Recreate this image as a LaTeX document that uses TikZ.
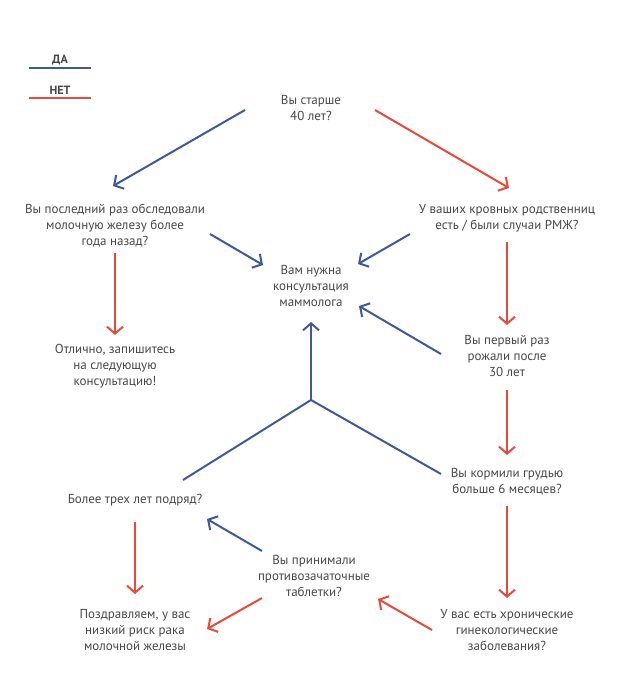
\documentclass[tikz,border=0pt]{standalone}
\usepackage{fontspec}
\setmainfont{PT Sans}
\usetikzlibrary{arrows.meta}
\definecolor{da}{HTML}{3E5A94}
\definecolor{net}{HTML}{E8493A}
\definecolor{txt}{HTML}{474747}
\tikzset{q/.style={align=center, inner sep=0pt, text=txt,
            font=\fontsize{13}{16}\selectfont},
         key/.style={q, font=\fontsize{12}{14}\selectfont\bfseries},
         yes/.style={draw=da, line width=2pt,
            -{Straight Barb[length=7pt, width=16pt]}},
         no/.style={yes, draw=net}}

\begin{document}
\begin{tikzpicture}[x=1pt, y=-1pt]
\useasboundingbox (0,0) rectangle (624,700);
% legend
\node[key] (kda) at (60,60) {ДА};
\node[key] (knet) at (60,90) {НЕТ};
\draw[yes, -] (29,68) -- (91,68);
\draw[no, -] (29,98) -- (91,98);
% questions and answers
\node[q] (q1) at (311,108) {Вы старше\\40 лет?};
\node[q] (q2) at (115,226) {Вы последний раз обследовали\\молочную железу более\\года назад?};
\node[q] (q3) at (507,218) {У ваших кровных родственниц\\есть / были случаи РМЖ?};
\node[q] (res) at (311,286) {Вам нужна\\консультация\\маммолога};
\node[q] (ok) at (115,366) {Отлично, запишитесь\\на следующую\\консультацию!};
\node[q] (q4) at (507,356) {Вы первый раз\\рожали после\\30 лет};
\node[q] (q5) at (507,482) {Вы кормили грудью\\больше 6 месяцев?};
\node[q] (q6) at (135,500) {Более трех лет подряд?};
\node[q] (q7) at (314,576) {Вы принимали\\противозачаточные\\таблетки?};
\node[q] (low) at (135,630) {Поздравляем, у вас\\низкий риск рака\\молочной железы};
\node[q] (q8) at (507,630) {У вас есть хронические\\гинекологические\\заболевания?};
\coordinate (join) at (311,400);
% yes
\draw[yes] ([shift={(-66,2)}]q1.center) -- ([shift={(-2,-40)}]q2.center);
\draw[yes] ([shift={(95,8)}]q2.center) -- ([shift={(-48,-21)}]res.center);
\draw[yes] ([shift={(-97,16)}]q3.center) -- ([shift={(47,-22)}]res.center);
\draw[yes] ([shift={(-66,-2)}]q4.center) -- ([shift={(48,20)}]res.center);
\draw[yes, -] ([shift={(48,-20)}]q6.center) -- (join);
\draw[yes, -] ([shift={(-66,-8)}]q5.center) -- (join);
\draw[yes] (join) -- ([shift={(0,36)}]res.center);
\draw[yes] ([shift={(-52,-25)}]q7.center) -- ([shift={(72,19)}]q6.center);
% no
\draw[no] ([shift={(64,2)}]q1.center) -- ([shift={(2,-30)}]q3.center);
\draw[no] ([shift={(0,27)}]q2.center) -- ([shift={(0,-31)}]ok.center);
\draw[no] ([shift={(0,24)}]q3.center) -- ([shift={(0,-31)}]q4.center);
\draw[no] ([shift={(0,34)}]q4.center) -- ([shift={(0,-27)}]q5.center);
\draw[no] ([shift={(0,24)}]q5.center) -- ([shift={(0,-32)}]q8.center);
\draw[no] ([shift={(0,22)}]q6.center) -- ([shift={(0,-36)}]low.center);
\draw[no] ([shift={(-52,22)}]q7.center) -- ([shift={(72,-1)}]low.center);
\draw[no] ([shift={(-75,0)}]q8.center) -- ([shift={(64,23)}]q7.center);
\end{tikzpicture}
\end{document}
